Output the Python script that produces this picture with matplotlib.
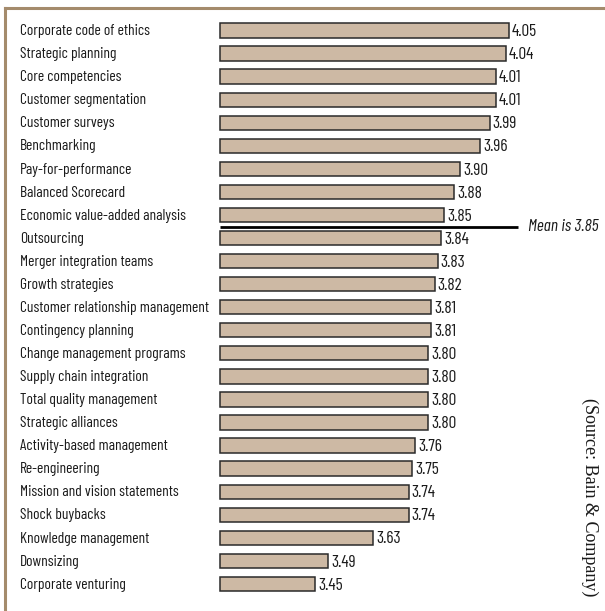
import matplotlib
matplotlib.use("Agg")
import matplotlib.pyplot as plt
from matplotlib.lines import Line2D

categories = [
    "Corporate code of ethics", "Strategic planning", "Core competencies",
    "Customer segmentation", "Customer surveys", "Benchmarking",
    "Pay-for-performance", "Balanced Scorecard", "Economic value-added analysis",
    "Outsourcing", "Merger integration teams", "Growth strategies",
    "Customer relationship management", "Contingency planning",
    "Change management programs", "Supply chain integration",
    "Total quality management", "Strategic alliances",
    "Activity-based management", "Re-engineering",
    "Mission and vision statements", "Shock buybacks",
    "Knowledge management", "Downsizing", "Corporate venturing",
]
values = [4.05, 4.04, 4.01, 4.01, 3.99, 3.96, 3.90, 3.88, 3.85,
          3.84, 3.83, 3.82, 3.81, 3.81, 3.80, 3.80, 3.80, 3.80,
          3.76, 3.75, 3.74, 3.74, 3.63, 3.49, 3.45]
mean_value = 3.85
mean_label = "Mean is 3.85"
source_text = "(Source: Bain & Company)"

W, H = 605, 611
fig = plt.figure(figsize=(W / 100, H / 100), dpi=100)
fig.patch.set_facecolor("white")
ax = fig.add_axes([0, 0, 1, 1])
ax.set_axis_off()

k = 323.3          # px per unit
x0 = 3.45 - 315 / k
ax.set_xlim(x0, x0 + W / k)
row = 23.06
top = 30.5
ax.set_ylim((H - top) / row, -top / row)

base = x0 + 220 / k
bar_color = "#cdb9a4"
edge = "#2a2a2a"
label_font = ["Barlow Condensed", "DejaVu Sans"]

ys = list(range(len(categories)))
widths = [v - base for v in values]
ax.barh(ys, widths, left=base, height=0.62, color=bar_color,
        edgecolor=edge, linewidth=1.1)

for y, cat, v in zip(ys, categories, values):
    ax.text(20 / W, y + 0.03, cat, transform=ax.get_yaxis_transform(),
            ha="left", va="center", fontsize=11.2, family=label_font,
            color="#1a1a1a")
    ax.text(v + 3 / k, y + 0.05, f"{v:.2f}", ha="left", va="center",
            fontsize=12.5, family=label_font, color="#1a1a1a")

# Mean line between the bar just at the mean and the next one
idx = max(i for i, v in enumerate(values) if v >= mean_value)
ymean = idx + 0.5
ax.plot([base, x0 + 518 / k], [ymean, ymean], color="black", lw=2,
        solid_capstyle="butt")
ax.text(528 / W, ymean, mean_label, transform=ax.get_yaxis_transform(),
        ha="left", va="center", fontsize=12.5, family=label_font,
        style="italic", color="#1a1a1a")

# Source
fig.text(590 / W, 1 - 497 / H, source_text, rotation=-90, ha="center",
         va="center", fontsize=13, family=["Liberation Serif", "DejaVu Serif"],
         color="#1a1a1a")

# Frame (top and left)
frame_c = "#a48b6c"
fig.add_artist(Line2D([5 / W, 1], [1 - 8 / H, 1 - 8 / H], color=frame_c,
                      lw=2.2, transform=fig.transFigure))
fig.add_artist(Line2D([5 / W, 5 / W], [0, 1 - 8 / H], color=frame_c,
                      lw=2.2, transform=fig.transFigure))

fig.savefig("out.png", dpi=100, facecolor="white")
